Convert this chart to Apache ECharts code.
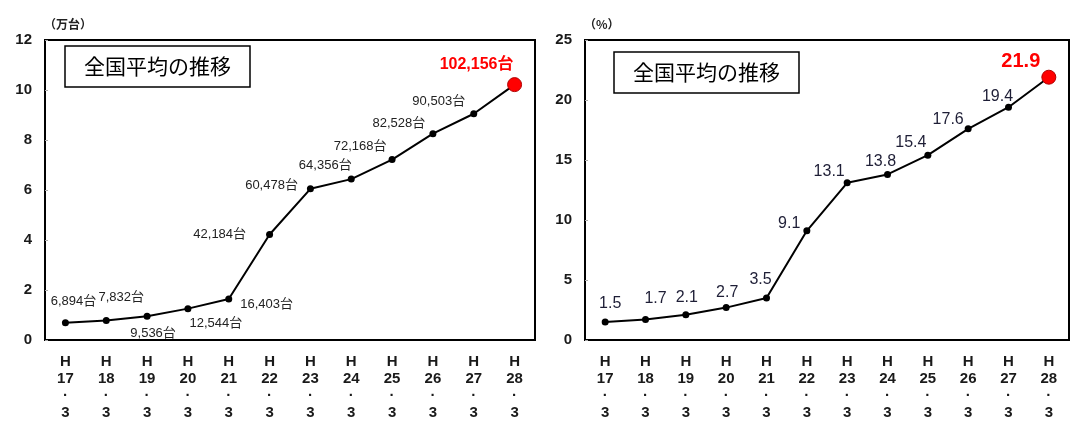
<!DOCTYPE html>
<html><head><meta charset="utf-8">
<script src="https://cdn.jsdelivr.net/npm/echarts@6/dist/echarts.min.js"></script>
<style>html,body{margin:0;padding:0;background:#fff}#c{width:1070px;height:421px}</style>
</head><body><div id="c"></div>
<script>
// ---- data ----
const categories = ['H\n17\n·\n3','H\n18\n·\n3','H\n19\n·\n3','H\n20\n·\n3','H\n21\n·\n3','H\n22\n·\n3','H\n23\n·\n3','H\n24\n·\n3','H\n25\n·\n3','H\n26\n·\n3','H\n27\n·\n3','H\n28\n·\n3'];
const unitCounts = [6894, 7832, 9536, 12544, 16403, 42184, 60478, 64356, 72168, 82528, 90503, 102156]; // 台
const shareValues = [1.5, 1.7, 2.1, 2.7, 3.5, 9.1, 13.1, 13.8, 15.4, 17.6, 19.4, 21.9]; // %
const leftTicks = {min: 0, max: 12, interval: 2};
const rightTicks = {min: 0, max: 25, interval: 5};

// ---- label layout (position + offset) ----
const leftLabelLayout = [
  ['top',[8,-6]],['top',[15,-8]],['bottom',[6,2]],['bottom',[28,0]],['right',[3,5]],
  ['left',[-15,0]],['left',[-4,-3]],['top',[-26,1]],['top',[-32,2]],['top',[-34,5]],['top',[-35,3]],['top',[-38,0]]
];
const rightLabelLayout = [
  ['top',[5,-2]],['top',[10,-5]],['top',[1,-1]],['top',[1,1]],['top',[-6,-2]],
  ['left',[2,-7]],['top',[-18,5]],['top',[-7,4]],['top',[-17,4]],['top',[-20,7]],['top',[-11,6]],['top',[-28,7]]
];

const fmtNum = n => n.toString().replace(/\B(?=(\d{3})+(?!\d))/g, ',');
const FONT = '"Liberation Sans", Arial, sans-serif';
const MIX = '"Liberation Sans", "Noto Sans CJK JP", sans-serif';
const JP = '"Noto Sans CJK JP", "Liberation Sans", sans-serif';

function buildData(values, layout, textFn, normalStyle, lastStyle){
  return values.map((v,i)=>{
    const last = i === values.length-1;
    return {
      value: v,
      symbolSize: last ? 14 : 7,
      itemStyle: last ? {color:'#ff0000', borderColor:'#b00000', borderWidth:1} : {color:'#000'},
      label: Object.assign({show:true, position: layout[i][0], offset: layout[i][1], formatter: textFn(i)}, last ? lastStyle : normalStyle)
    };
  });
}

const leftData = buildData(unitCounts.map(c=>c/10000), leftLabelLayout,
  i => fmtNum(unitCounts[i]) + '台',
  {fontSize:13, color:'#222', fontFamily:MIX},
  {fontSize:16, fontWeight:'bold', color:'#ff0000', fontFamily:MIX});
const rightData = buildData(shareValues, rightLabelLayout,
  i => shareValues[i].toFixed(1),
  {fontSize:16, color:'#1e1e36', fontFamily:FONT},
  {fontSize:20, fontWeight:'bold', color:'#ff0000', fontFamily:FONT});

function xAx(gi){
  return {
    type:'category', gridIndex:gi, data:categories, boundaryGap:true,
    axisLine:{lineStyle:{color:'#000', width:2}},
    axisTick:{inside:true, length:4, lineStyle:{color:'#999'}},
    axisLabel:{fontSize:15, fontWeight:'bold', lineHeight:17, color:'#1a1a1a', fontFamily:FONT, margin:13, interval:0}
  };
}
function yAx(gi, t, name){
  return {
    type:'value', gridIndex:gi, min:t.min, max:t.max, interval:t.interval,
    name:name, nameLocation:'end', nameGap:10,
    nameTextStyle:{fontSize:12, fontWeight:'bold', color:'#222', fontFamily:JP, align:'left', padding:[0,0,0,-1]},
    splitLine:{show:false},
    axisLine:{show:true, lineStyle:{color:'#000', width:2}},
    axisTick:{show:true, inside:true, length:3, lineStyle:{color:'#aaa'}},
    axisLabel:{fontSize:15, fontWeight:'bold', color:'#1a1a1a', fontFamily:FONT, margin:13}
  };
}
function titleBox(left, top){
  return {
    text:'全国平均の推移', left:left, top:top,
    padding:[8,19], borderColor:'#000', borderWidth:1.5,
    textStyle:{fontSize:21, fontWeight:'normal', color:'#000', fontFamily:JP, lineHeight:25}
  };
}

const chart = echarts.init(document.getElementById('c'));
chart.setOption({
  animation:false,
  title:[titleBox(65,46), titleBox(614,52)],
  grid:[
    {left:45, top:40, width:490, height:302, show:true, borderColor:'#000', borderWidth:2, backgroundColor:'transparent'},
    {left:585, top:40, width:484, height:303, show:true, borderColor:'#000', borderWidth:2, backgroundColor:'transparent'}
  ],
  xAxis:[xAx(0), xAx(1)],
  yAxis:[yAx(0, leftTicks, '（万台）'), yAx(1, rightTicks, '（%）')],
  series:[
    {type:'line', xAxisIndex:0, yAxisIndex:0, data:leftData, symbol:'circle', lineStyle:{color:'#000', width:2}, z:3},
    {type:'line', xAxisIndex:1, yAxisIndex:1, data:rightData, symbol:'circle', lineStyle:{color:'#000', width:2}, z:3}
  ]
});
</script></body></html>
